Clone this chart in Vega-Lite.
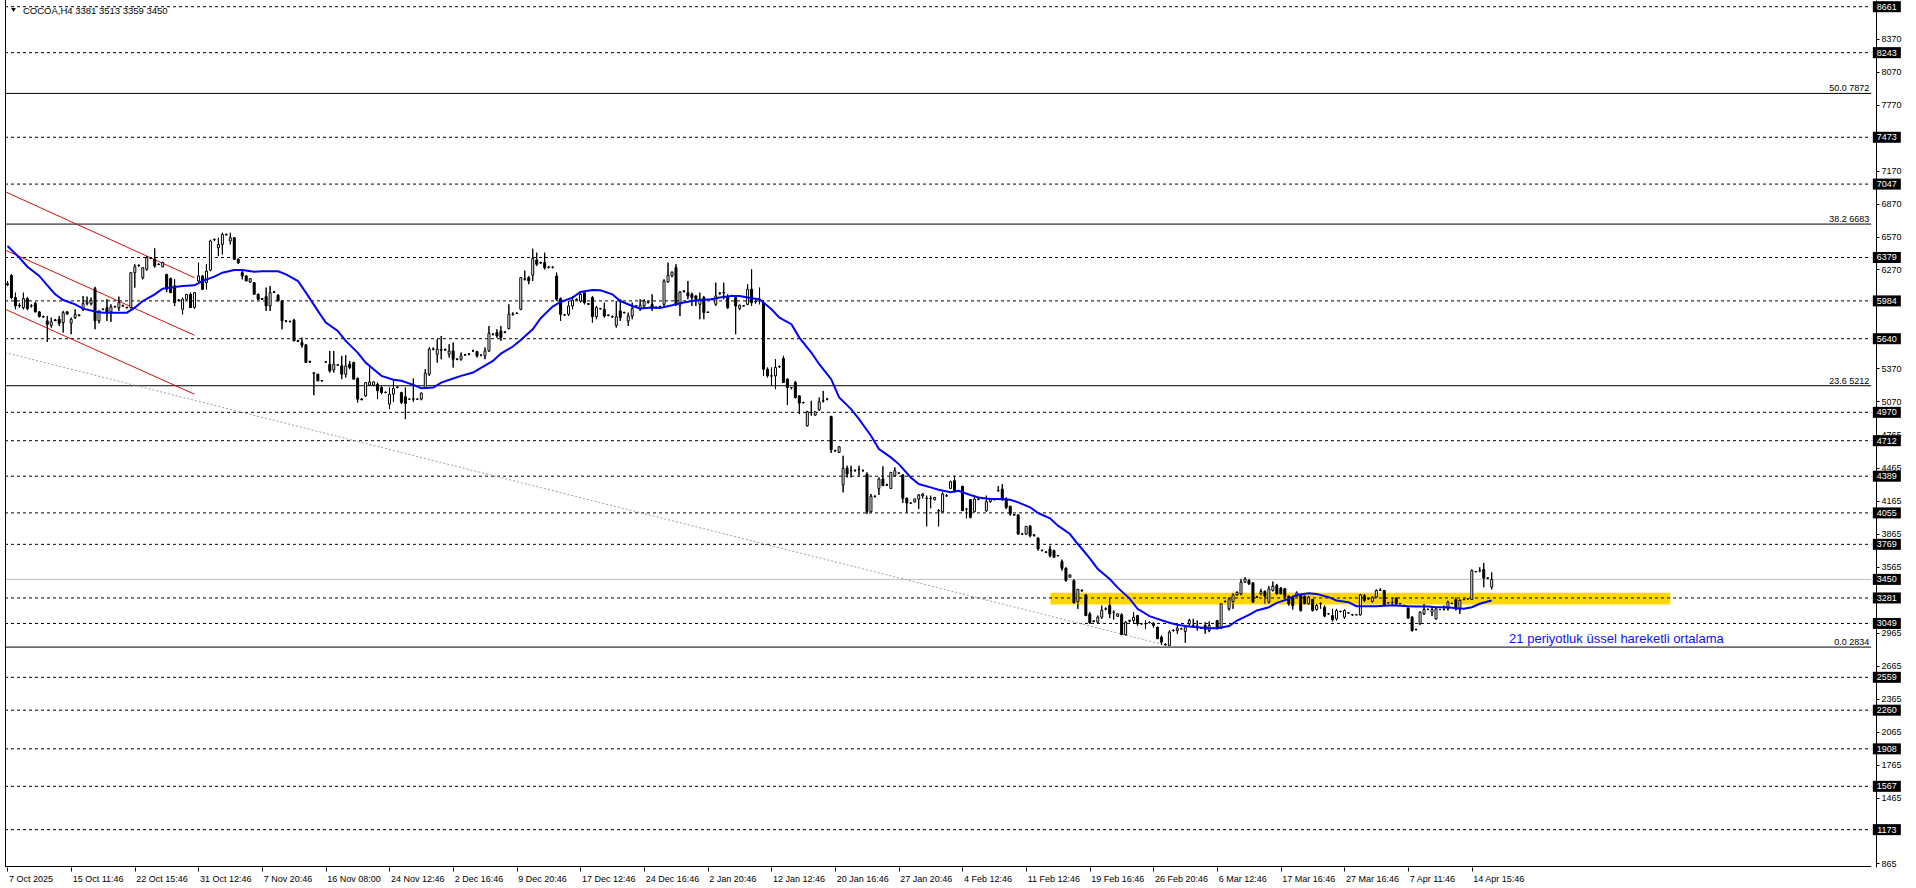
{
"$schema": "https://vega.github.io/schema/vega-lite/v6.json",
"width": 1916, "height": 867,
"autosize": "none",
"padding": {"left": 0, "top": 0, "right": 0, "bottom": 21},
"background": "white",
"config": {"view": {"stroke": null}, "font": "Liberation Sans", "axis": {"titleOpacity": 0}},
"datasets": {
"candles": [
{"i":0,"o":6140,"h":6165,"l":6120,"c":6130},{"i":1,"o":6217,"h":6226,"l":6000,"c":6014},{"i":2,"o":6014,"h":6059,"l":5908,"c":5938},{"i":3,"o":5944,"h":5962,"l":5923,"c":5938},{"i":4,"o":5923,"h":6059,"l":5908,"c":6005},{"i":5,"o":6005,"h":6020,"l":5900,"c":5914},{"i":6,"o":5938,"h":5953,"l":5925,"c":5940},{"i":7,"o":5962,"h":5975,"l":5880,"c":5884},{"i":8,"o":5884,"h":5890,"l":5835,"c":5841},{"i":9,"o":5841,"h":5850,"l":5830,"c":5838},
{"i":10,"o":5802,"h":5847,"l":5611,"c":5771},{"i":11,"o":5762,"h":5832,"l":5741,"c":5793},{"i":12,"o":5811,"h":5820,"l":5800,"c":5805},{"i":13,"o":5817,"h":5847,"l":5756,"c":5781},{"i":14,"o":5787,"h":5893,"l":5696,"c":5877},{"i":15,"o":5884,"h":5890,"l":5860,"c":5865},{"i":16,"o":5781,"h":5832,"l":5681,"c":5817},{"i":17,"o":5832,"h":5908,"l":5820,"c":5862},{"i":18,"o":5855,"h":5862,"l":5845,"c":5850},{"i":19,"o":5908,"h":6029,"l":5893,"c":5959},
{"i":20,"o":5962,"h":6023,"l":5944,"c":5974},{"i":21,"o":5959,"h":6014,"l":5944,"c":5989},{"i":22,"o":6096,"h":6113,"l":5726,"c":5802},{"i":23,"o":5802,"h":5893,"l":5780,"c":5893},{"i":24,"o":5905,"h":5915,"l":5900,"c":5908},{"i":25,"o":5923,"h":5999,"l":5802,"c":5877},{"i":26,"o":5884,"h":5953,"l":5793,"c":5929},{"i":27,"o":5932,"h":5940,"l":5925,"c":5930},{"i":28,"o":5923,"h":6023,"l":5893,"c":5968},{"i":29,"o":5938,"h":5950,"l":5930,"c":5940},
{"i":30,"o":5925,"h":5930,"l":5915,"c":5923},{"i":31,"o":5923,"h":6241,"l":5915,"c":6241},{"i":32,"o":6241,"h":6317,"l":6105,"c":6295},{"i":33,"o":6305,"h":6315,"l":6295,"c":6308},{"i":34,"o":6195,"h":6286,"l":6180,"c":6286},{"i":35,"o":6271,"h":6392,"l":6260,"c":6377},{"i":36,"o":6375,"h":6380,"l":6365,"c":6372},{"i":37,"o":6362,"h":6462,"l":6286,"c":6301},{"i":38,"o":6317,"h":6325,"l":6310,"c":6315},{"i":39,"o":6295,"h":6340,"l":6290,"c":6332},
{"i":40,"o":6226,"h":6226,"l":6065,"c":6089},{"i":41,"o":6189,"h":6195,"l":6059,"c":6059},{"i":42,"o":6120,"h":6180,"l":5938,"c":5968},{"i":43,"o":5989,"h":6000,"l":5980,"c":5992},{"i":44,"o":5908,"h":6014,"l":5862,"c":5999},{"i":45,"o":5999,"h":6044,"l":5990,"c":6044},{"i":46,"o":6044,"h":6060,"l":5923,"c":5923},{"i":47,"o":5923,"h":6059,"l":5915,"c":6059},{"i":48,"o":6165,"h":6332,"l":6150,"c":6211},{"i":49,"o":6211,"h":6220,"l":6089,"c":6089},
{"i":50,"o":6150,"h":6317,"l":6089,"c":6256},{"i":51,"o":6265,"h":6540,"l":6255,"c":6529},{"i":52,"o":6540,"h":6550,"l":6530,"c":6544},{"i":53,"o":6468,"h":6559,"l":6392,"c":6498},{"i":54,"o":6498,"h":6604,"l":6407,"c":6589},{"i":55,"o":6585,"h":6595,"l":6580,"c":6590},{"i":56,"o":6529,"h":6604,"l":6498,"c":6559},{"i":57,"o":6559,"h":6565,"l":6362,"c":6362},{"i":58,"o":6362,"h":6370,"l":6320,"c":6332},{"i":59,"o":6241,"h":6256,"l":6180,"c":6211},
{"i":60,"o":6211,"h":6215,"l":6165,"c":6165},{"i":61,"o":6156,"h":6190,"l":6150,"c":6186},{"i":62,"o":6150,"h":6155,"l":6044,"c":6044},{"i":63,"o":6044,"h":6050,"l":5995,"c":5999},{"i":64,"o":6005,"h":6010,"l":5995,"c":6000},{"i":65,"o":6023,"h":6105,"l":5893,"c":5938},{"i":66,"o":5938,"h":6120,"l":5893,"c":6059},{"i":67,"o":6065,"h":6075,"l":6055,"c":6062},{"i":68,"o":6035,"h":6045,"l":5983,"c":5983},{"i":69,"o":5983,"h":5990,"l":5726,"c":5802},
{"i":70,"o":5802,"h":5810,"l":5790,"c":5800},{"i":71,"o":5796,"h":5805,"l":5790,"c":5795},{"i":72,"o":5808,"h":5820,"l":5620,"c":5620},{"i":73,"o":5620,"h":5630,"l":5610,"c":5615},{"i":74,"o":5605,"h":5650,"l":5559,"c":5581},{"i":75,"o":5584,"h":5590,"l":5423,"c":5423},{"i":76,"o":5429,"h":5440,"l":5420,"c":5432},{"i":77,"o":5323,"h":5332,"l":5126,"c":5330},{"i":78,"o":5317,"h":5320,"l":5256,"c":5256},{"i":79,"o":5256,"h":5265,"l":5250,"c":5260},
{"i":80,"o":5429,"h":5435,"l":5420,"c":5428},{"i":81,"o":5408,"h":5529,"l":5332,"c":5347},{"i":82,"o":5356,"h":5529,"l":5332,"c":5408},{"i":83,"o":5402,"h":5410,"l":5395,"c":5400},{"i":84,"o":5393,"h":5484,"l":5272,"c":5317},{"i":85,"o":5317,"h":5490,"l":5287,"c":5393},{"i":86,"o":5408,"h":5438,"l":5363,"c":5378},{"i":87,"o":5423,"h":5430,"l":5272,"c":5272},{"i":88,"o":5278,"h":5287,"l":5060,"c":5090},{"i":89,"o":5090,"h":5100,"l":5080,"c":5085},
{"i":90,"o":5120,"h":5241,"l":5110,"c":5241},{"i":91,"o":5217,"h":5378,"l":5211,"c":5247},{"i":92,"o":5217,"h":5250,"l":5210,"c":5247},{"i":93,"o":5226,"h":5240,"l":5090,"c":5166},{"i":94,"o":5196,"h":5211,"l":5135,"c":5150},{"i":95,"o":5150,"h":5160,"l":5145,"c":5152},{"i":96,"o":5045,"h":5196,"l":4999,"c":5135},{"i":97,"o":5135,"h":5257,"l":5066,"c":5187},{"i":98,"o":5196,"h":5205,"l":5190,"c":5200},{"i":99,"o":5150,"h":5157,"l":5045,"c":5060},
{"i":100,"o":5111,"h":5196,"l":4908,"c":5051},{"i":101,"o":5090,"h":5095,"l":5085,"c":5090},{"i":102,"o":5090,"h":5278,"l":5066,"c":5092},{"i":103,"o":5090,"h":5095,"l":5085,"c":5090},{"i":104,"o":5090,"h":5150,"l":5080,"c":5145},{"i":105,"o":5196,"h":5363,"l":5190,"c":5326},{"i":106,"o":5317,"h":5560,"l":5302,"c":5544},{"i":107,"o":5544,"h":5560,"l":5535,"c":5546},{"i":108,"o":5499,"h":5635,"l":5423,"c":5544},{"i":109,"o":5535,"h":5665,"l":5453,"c":5540},
{"i":110,"o":5540,"h":5550,"l":5530,"c":5538},{"i":111,"o":5499,"h":5590,"l":5469,"c":5529},{"i":112,"o":5529,"h":5605,"l":5378,"c":5453},{"i":113,"o":5455,"h":5460,"l":5445,"c":5453},{"i":114,"o":5453,"h":5514,"l":5440,"c":5484},{"i":115,"o":5493,"h":5500,"l":5485,"c":5494},{"i":116,"o":5499,"h":5510,"l":5490,"c":5500},{"i":117,"o":5529,"h":5540,"l":5520,"c":5530},{"i":118,"o":5523,"h":5529,"l":5469,"c":5484},{"i":119,"o":5490,"h":5495,"l":5480,"c":5490},
{"i":120,"o":5484,"h":5560,"l":5453,"c":5529},{"i":121,"o":5529,"h":5756,"l":5520,"c":5690},{"i":122,"o":5680,"h":5690,"l":5670,"c":5681},{"i":123,"o":5696,"h":5726,"l":5650,"c":5665},{"i":124,"o":5711,"h":5756,"l":5620,"c":5650},{"i":125,"o":5700,"h":5710,"l":5690,"c":5702},{"i":126,"o":5732,"h":5953,"l":5726,"c":5862},{"i":127,"o":5862,"h":5880,"l":5850,"c":5865},{"i":128,"o":5872,"h":5880,"l":5865,"c":5870},{"i":129,"o":5908,"h":6200,"l":5900,"c":6196},
{"i":130,"o":6180,"h":6260,"l":6170,"c":6186},{"i":131,"o":6196,"h":6211,"l":6135,"c":6165},{"i":132,"o":6217,"h":6459,"l":6165,"c":6368},{"i":133,"o":6356,"h":6423,"l":6301,"c":6317},{"i":134,"o":6330,"h":6340,"l":6320,"c":6333},{"i":135,"o":6332,"h":6423,"l":6271,"c":6286},{"i":136,"o":6290,"h":6300,"l":6280,"c":6292},{"i":137,"o":6290,"h":6300,"l":6280,"c":6290},{"i":138,"o":6211,"h":6241,"l":5983,"c":5999},{"i":139,"o":6005,"h":6014,"l":5802,"c":5862},
{"i":140,"o":5856,"h":5865,"l":5850,"c":5855},{"i":141,"o":5862,"h":5983,"l":5847,"c":5938},{"i":142,"o":5938,"h":6029,"l":5908,"c":5990},{"i":143,"o":5995,"h":6005,"l":5990,"c":5999},{"i":144,"o":5983,"h":6050,"l":5970,"c":6044},{"i":145,"o":6059,"h":6074,"l":5953,"c":5968},{"i":146,"o":5960,"h":5965,"l":5950,"c":5953},{"i":147,"o":6014,"h":6029,"l":5787,"c":5840},{"i":148,"o":5840,"h":5938,"l":5817,"c":5923},{"i":149,"o":5915,"h":5920,"l":5905,"c":5913},
{"i":150,"o":5908,"h":5968,"l":5832,"c":5847},{"i":151,"o":5855,"h":5860,"l":5845,"c":5853},{"i":152,"o":5840,"h":5850,"l":5830,"c":5842},{"i":153,"o":5762,"h":5983,"l":5741,"c":5840},{"i":154,"o":5893,"h":5999,"l":5802,"c":5832},{"i":155,"o":5878,"h":5885,"l":5870,"c":5877},{"i":156,"o":5802,"h":5877,"l":5756,"c":5847},{"i":157,"o":5847,"h":5968,"l":5817,"c":5914},{"i":158,"o":5937,"h":5945,"l":5930,"c":5940},{"i":159,"o":5908,"h":5999,"l":5893,"c":5944},
{"i":160,"o":5938,"h":5999,"l":5923,"c":5983},{"i":161,"o":5970,"h":5980,"l":5960,"c":5975},{"i":162,"o":5953,"h":6044,"l":5893,"c":5914},{"i":163,"o":5925,"h":5935,"l":5910,"c":5924},{"i":164,"o":5930,"h":5940,"l":5920,"c":5932},{"i":165,"o":5953,"h":6180,"l":5938,"c":6165},{"i":166,"o":6156,"h":6332,"l":6150,"c":6217},{"i":167,"o":6211,"h":6250,"l":6200,"c":6246},{"i":168,"o":6287,"h":6317,"l":5938,"c":5953},{"i":169,"o":5944,"h":6074,"l":5847,"c":6065},
{"i":170,"o":6070,"h":6080,"l":6060,"c":6075},{"i":171,"o":6059,"h":6165,"l":6000,"c":6029},{"i":172,"o":6044,"h":6059,"l":5938,"c":6014},{"i":173,"o":6029,"h":6035,"l":5938,"c":5999},{"i":174,"o":5953,"h":6059,"l":5817,"c":5999},{"i":175,"o":6014,"h":6029,"l":5817,"c":5878},{"i":176,"o":5880,"h":5885,"l":5875,"c":5882},{"i":177,"o":5999,"h":6010,"l":5990,"c":6000},{"i":178,"o":5953,"h":6150,"l":5938,"c":6029},{"i":179,"o":6050,"h":6065,"l":6040,"c":6055},
{"i":180,"o":6058,"h":6150,"l":5999,"c":6062},{"i":181,"o":6014,"h":6044,"l":5911,"c":5923},{"i":182,"o":6030,"h":6040,"l":6020,"c":6028},{"i":183,"o":6014,"h":6029,"l":5681,"c":5938},{"i":184,"o":5917,"h":5950,"l":5900,"c":5944},{"i":185,"o":5940,"h":5945,"l":5935,"c":5938},{"i":186,"o":5953,"h":6135,"l":5945,"c":6090},{"i":187,"o":6090,"h":6271,"l":5940,"c":5968},{"i":188,"o":5980,"h":5990,"l":5960,"c":5975},{"i":189,"o":5985,"h":6105,"l":5953,"c":5983},
{"i":190,"o":5968,"h":5990,"l":5302,"c":5363},{"i":191,"o":5363,"h":5378,"l":5287,"c":5302},{"i":192,"o":5302,"h":5378,"l":5211,"c":5300},{"i":193,"o":5302,"h":5454,"l":5181,"c":5378},{"i":194,"o":5385,"h":5395,"l":5375,"c":5387},{"i":195,"o":5460,"h":5484,"l":5241,"c":5241},{"i":196,"o":5272,"h":5278,"l":5036,"c":5196},{"i":197,"o":5196,"h":5200,"l":5180,"c":5195},{"i":198,"o":5241,"h":5256,"l":5096,"c":5105},{"i":199,"o":5120,"h":5126,"l":4954,"c":5054},
{"i":200,"o":5060,"h":5065,"l":5050,"c":5060},{"i":201,"o":4848,"h":4984,"l":4842,"c":4975},{"i":202,"o":4970,"h":5075,"l":4940,"c":4968},{"i":203,"o":4945,"h":4980,"l":4940,"c":4975},{"i":204,"o":4993,"h":5105,"l":4984,"c":5066},{"i":205,"o":5075,"h":5165,"l":5060,"c":5076},{"i":206,"o":5090,"h":5100,"l":5080,"c":5090},{"i":207,"o":4932,"h":4938,"l":4600,"c":4630},{"i":208,"o":4620,"h":4630,"l":4610,"c":4622},{"i":209,"o":4606,"h":4660,"l":4600,"c":4657},
{"i":210,"o":4309,"h":4575,"l":4242,"c":4460},{"i":211,"o":4460,"h":4484,"l":4378,"c":4409},{"i":212,"o":4440,"h":4484,"l":4378,"c":4440},{"i":213,"o":4440,"h":4450,"l":4430,"c":4442},{"i":214,"o":4448,"h":4484,"l":4393,"c":4450},{"i":215,"o":4440,"h":4450,"l":4430,"c":4440},{"i":216,"o":4408,"h":4424,"l":4045,"c":4066},{"i":217,"o":4066,"h":4227,"l":4060,"c":4206},{"i":218,"o":4206,"h":4215,"l":4195,"c":4205},{"i":219,"o":4278,"h":4378,"l":4218,"c":4363},
{"i":220,"o":4363,"h":4478,"l":4302,"c":4302},{"i":221,"o":4310,"h":4320,"l":4300,"c":4308},{"i":222,"o":4278,"h":4424,"l":4272,"c":4424},{"i":223,"o":4393,"h":4469,"l":4387,"c":4439},{"i":224,"o":4418,"h":4425,"l":4410,"c":4417},{"i":225,"o":4400,"h":4409,"l":4145,"c":4187},{"i":226,"o":4187,"h":4196,"l":4060,"c":4145},{"i":227,"o":4145,"h":4150,"l":4140,"c":4144},{"i":228,"o":4157,"h":4185,"l":4150,"c":4181},{"i":229,"o":4181,"h":4227,"l":4090,"c":4218},
{"i":230,"o":4212,"h":4235,"l":4187,"c":4227},{"i":231,"o":4187,"h":4212,"l":3933,"c":4188},{"i":232,"o":4190,"h":4212,"l":4097,"c":4188},{"i":233,"o":4175,"h":4200,"l":4170,"c":4196},{"i":234,"o":4075,"h":4090,"l":3933,"c":4072},{"i":235,"o":4066,"h":4242,"l":4060,"c":4227},{"i":236,"o":4210,"h":4225,"l":4200,"c":4212},{"i":237,"o":4278,"h":4348,"l":4272,"c":4339},{"i":238,"o":4348,"h":4393,"l":4242,"c":4257},{"i":239,"o":4257,"h":4265,"l":4250,"c":4258},
{"i":240,"o":4296,"h":4302,"l":4075,"c":4075},{"i":241,"o":4090,"h":4095,"l":4006,"c":4090},{"i":242,"o":4175,"h":4181,"l":4006,"c":4015},{"i":243,"o":4066,"h":4212,"l":4060,"c":4181},{"i":244,"o":4180,"h":4190,"l":4170,"c":4181},{"i":245,"o":4185,"h":4195,"l":4180,"c":4187},{"i":246,"o":4075,"h":4212,"l":4066,"c":4157},{"i":247,"o":4157,"h":4185,"l":4150,"c":4181},{"i":248,"o":4175,"h":4180,"l":4170,"c":4176},{"i":249,"o":4257,"h":4300,"l":4250,"c":4258},
{"i":250,"o":4272,"h":4317,"l":4166,"c":4181},{"i":251,"o":4181,"h":4196,"l":4090,"c":4105},{"i":252,"o":4115,"h":4120,"l":4030,"c":4045},{"i":253,"o":4040,"h":4045,"l":4030,"c":4036},{"i":254,"o":4036,"h":4045,"l":3854,"c":3863},{"i":255,"o":3863,"h":3870,"l":3855,"c":3862},{"i":256,"o":3863,"h":3933,"l":3855,"c":3933},{"i":257,"o":3933,"h":3945,"l":3833,"c":3848},{"i":258,"o":3855,"h":3860,"l":3840,"c":3850},{"i":259,"o":3824,"h":3833,"l":3712,"c":3727},
{"i":260,"o":3715,"h":3720,"l":3705,"c":3712},{"i":261,"o":3700,"h":3705,"l":3690,"c":3697},{"i":262,"o":3727,"h":3757,"l":3651,"c":3666},{"i":263,"o":3712,"h":3720,"l":3651,"c":3651},{"i":264,"o":3667,"h":3672,"l":3660,"c":3666},{"i":265,"o":3612,"h":3630,"l":3530,"c":3551},{"i":266,"o":3551,"h":3560,"l":3430,"c":3439},{"i":267,"o":3470,"h":3495,"l":3465,"c":3490},{"i":268,"o":3439,"h":3454,"l":3228,"c":3237},{"i":269,"o":3248,"h":3360,"l":3182,"c":3360},
{"i":270,"o":3345,"h":3360,"l":3340,"c":3348},{"i":271,"o":3309,"h":3318,"l":3116,"c":3121},{"i":272,"o":3136,"h":3151,"l":3046,"c":3055},{"i":273,"o":3070,"h":3080,"l":3060,"c":3068},{"i":274,"o":3061,"h":3121,"l":3055,"c":3106},{"i":275,"o":3106,"h":3212,"l":3091,"c":3167},{"i":276,"o":3180,"h":3195,"l":3170,"c":3182},{"i":277,"o":3212,"h":3279,"l":3098,"c":3136},{"i":278,"o":3150,"h":3167,"l":3085,"c":3152},{"i":279,"o":3115,"h":3140,"l":3110,"c":3136},
{"i":280,"o":3128,"h":3140,"l":2946,"c":2946},{"i":281,"o":2946,"h":3070,"l":2940,"c":3061},{"i":282,"o":3070,"h":3080,"l":3060,"c":3078},{"i":283,"o":3076,"h":3152,"l":3046,"c":3106},{"i":284,"o":3121,"h":3127,"l":3030,"c":3046},{"i":285,"o":3046,"h":3050,"l":3040,"c":3045},{"i":286,"o":3048,"h":3076,"l":3000,"c":3046},{"i":287,"o":3058,"h":3065,"l":3050,"c":3060},{"i":288,"o":3050,"h":3060,"l":3010,"c":3030},{"i":289,"o":3015,"h":3020,"l":2910,"c":2910},
{"i":290,"o":2925,"h":2940,"l":2855,"c":2879},{"i":291,"o":2860,"h":2865,"l":2850,"c":2855},{"i":292,"o":2849,"h":2985,"l":2843,"c":2970},{"i":293,"o":2985,"h":2995,"l":2975,"c":2985},{"i":294,"o":2985,"h":3030,"l":2955,"c":3006},{"i":295,"o":3000,"h":3010,"l":2995,"c":3000},{"i":296,"o":2976,"h":3030,"l":2873,"c":3015},{"i":297,"o":3046,"h":3091,"l":3030,"c":3076},{"i":298,"o":3030,"h":3091,"l":3015,"c":3031},{"i":299,"o":3025,"h":3076,"l":2985,"c":3024},
{"i":300,"o":3006,"h":3015,"l":3000,"c":3005},{"i":301,"o":3030,"h":3061,"l":2955,"c":2994},{"i":302,"o":2985,"h":3067,"l":2970,"c":3030},{"i":303,"o":3006,"h":3015,"l":3000,"c":3005},{"i":304,"o":3076,"h":3078,"l":2995,"c":3006},{"i":305,"o":3006,"h":3228,"l":3000,"c":3228},{"i":306,"o":3248,"h":3260,"l":3240,"c":3249},{"i":307,"o":3182,"h":3288,"l":3167,"c":3273},{"i":308,"o":3249,"h":3327,"l":3182,"c":3309},{"i":309,"o":3309,"h":3340,"l":3300,"c":3333},
{"i":310,"o":3318,"h":3455,"l":3303,"c":3424},{"i":311,"o":3424,"h":3470,"l":3418,"c":3454},{"i":312,"o":3440,"h":3455,"l":3400,"c":3410},{"i":313,"o":3418,"h":3424,"l":3236,"c":3243},{"i":314,"o":3290,"h":3300,"l":3280,"c":3288},{"i":315,"o":3318,"h":3364,"l":3303,"c":3340},{"i":316,"o":3340,"h":3350,"l":3228,"c":3297},{"i":317,"o":3243,"h":3388,"l":3228,"c":3364},{"i":318,"o":3349,"h":3430,"l":3340,"c":3388},{"i":319,"o":3394,"h":3409,"l":3310,"c":3318},
{"i":320,"o":3370,"h":3380,"l":3318,"c":3318},{"i":321,"o":3364,"h":3370,"l":3267,"c":3297},{"i":322,"o":3297,"h":3303,"l":3212,"c":3228},{"i":323,"o":3288,"h":3303,"l":3176,"c":3212},{"i":324,"o":3297,"h":3340,"l":3290,"c":3327},{"i":325,"o":3309,"h":3318,"l":3158,"c":3167},{"i":326,"o":3297,"h":3303,"l":3228,"c":3228},{"i":327,"o":3228,"h":3300,"l":3220,"c":3288},{"i":328,"o":3267,"h":3273,"l":3158,"c":3167},{"i":329,"o":3176,"h":3228,"l":3167,"c":3212},
{"i":330,"o":3230,"h":3243,"l":3182,"c":3228},{"i":331,"o":3197,"h":3212,"l":3106,"c":3116},{"i":332,"o":3136,"h":3140,"l":3130,"c":3137},{"i":333,"o":3121,"h":3182,"l":3067,"c":3082},{"i":334,"o":3091,"h":3182,"l":3076,"c":3167},{"i":335,"o":3158,"h":3165,"l":3150,"c":3158},{"i":336,"o":3106,"h":3176,"l":3091,"c":3167},{"i":337,"o":3145,"h":3150,"l":3140,"c":3146},{"i":338,"o":3127,"h":3135,"l":3120,"c":3128},{"i":339,"o":3127,"h":3130,"l":3125,"c":3128},
{"i":340,"o":3127,"h":3318,"l":3122,"c":3309},{"i":341,"o":3303,"h":3318,"l":3243,"c":3258},{"i":342,"o":3273,"h":3280,"l":3265,"c":3273},{"i":343,"o":3249,"h":3297,"l":3237,"c":3288},{"i":344,"o":3288,"h":3358,"l":3279,"c":3349},{"i":345,"o":3350,"h":3370,"l":3345,"c":3352},{"i":346,"o":3349,"h":3350,"l":3212,"c":3218},{"i":347,"o":3237,"h":3245,"l":3230,"c":3237},{"i":348,"o":3240,"h":3279,"l":3218,"c":3237},{"i":349,"o":3279,"h":3288,"l":3218,"c":3228},
{"i":350,"o":3230,"h":3235,"l":3225,"c":3228},{"i":351,"o":3212,"h":3220,"l":3205,"c":3212},{"i":352,"o":3188,"h":3197,"l":3097,"c":3097},{"i":353,"o":3106,"h":3115,"l":2976,"c":2985},{"i":354,"o":2995,"h":3000,"l":2985,"c":2994},{"i":355,"o":3046,"h":3158,"l":3037,"c":3152},{"i":356,"o":3136,"h":3228,"l":3127,"c":3176},{"i":357,"o":3176,"h":3185,"l":3170,"c":3176},{"i":358,"o":3152,"h":3197,"l":3116,"c":3176},{"i":359,"o":3091,"h":3197,"l":3085,"c":3182},
{"i":360,"o":3176,"h":3182,"l":3170,"c":3176},{"i":361,"o":3176,"h":3212,"l":3167,"c":3178},{"i":362,"o":3182,"h":3258,"l":3167,"c":3243},{"i":363,"o":3230,"h":3240,"l":3225,"c":3230},{"i":364,"o":3267,"h":3288,"l":3167,"c":3182},{"i":365,"o":3182,"h":3273,"l":3136,"c":3258},{"i":366,"o":3266,"h":3275,"l":3260,"c":3267},{"i":367,"o":3273,"h":3280,"l":3265,"c":3273},{"i":368,"o":3267,"h":3540,"l":3265,"c":3530},{"i":369,"o":3520,"h":3525,"l":3515,"c":3521},
{"i":370,"o":3530,"h":3560,"l":3515,"c":3530},{"i":371,"o":3540,"h":3600,"l":3379,"c":3460},{"i":372,"o":3462,"h":3470,"l":3450,"c":3461},{"i":373,"o":3381,"h":3513,"l":3359,"c":3450}
],
"ema": [
{"i":0,"v":6483},{"i":3,"v":6377},{"i":5,"v":6295},{"i":8,"v":6211},{"i":10,"v":6126},{"i":12,"v":6044},{"i":14,"v":5992},{"i":17,"v":5953},{"i":19,"v":5914},{"i":22,"v":5887},{"i":24,"v":5877},{"i":27,"v":5877},{"i":30,"v":5877},{"i":32,"v":5923},{"i":34,"v":5983},{"i":37,"v":6044},{"i":39,"v":6096},{"i":42,"v":6111},{"i":44,"v":6120},{"i":47,"v":6126},{"i":49,"v":6165},{"i":52,"v":6205},{"i":54,"v":6241},{"i":57,"v":6265},{"i":59,"v":6265},{"i":62,"v":6250},{"i":64,"v":6253},{"i":68,"v":6253},{"i":70,"v":6226},{"i":73,"v":6165},{"i":75,"v":6059},{"i":78,"v":5893},{"i":80,"v":5787},{"i":83,"v":5711},{"i":85,"v":5620},{"i":88,"v":5514},{"i":90,"v":5423},{"i":92,"v":5363},{"i":94,"v":5302},{"i":97,"v":5266},{"i":99,"v":5257},{"i":102,"v":5220},{"i":104,"v":5190},{"i":107,"v":5196},{"i":109,"v":5241},{"i":112,"v":5278},{"i":114,"v":5302},{"i":117,"v":5332},{"i":119,"v":5375},{"i":122,"v":5438},{"i":124,"v":5505},{"i":127,"v":5569},{"i":129,"v":5629},{"i":132,"v":5726},{"i":134,"v":5826},{"i":137,"v":5932},{"i":139,"v":5974},{"i":142,"v":6014},{"i":144,"v":6065},{"i":147,"v":6083},{"i":149,"v":6080},{"i":152,"v":6044},{"i":154,"v":5983},{"i":157,"v":5938},{"i":159,"v":5914},{"i":162,"v":5923},{"i":164,"v":5920},{"i":167,"v":5944},{"i":169,"v":5962},{"i":172,"v":5983},{"i":174,"v":5992},{"i":177,"v":5999},{"i":179,"v":6014},{"i":182,"v":6029},{"i":184,"v":6029},{"i":187,"v":6008},{"i":189,"v":5999},{"i":192,"v":5908},{"i":194,"v":5832},{"i":197,"v":5772},{"i":199,"v":5650},{"i":202,"v":5514},{"i":204,"v":5408},{"i":207,"v":5272},{"i":209,"v":5105},{"i":212,"v":4999},{"i":214,"v":4908},{"i":217,"v":4757},{"i":219,"v":4636},{"i":222,"v":4560},{"i":224,"v":4499},{"i":227,"v":4378},{"i":229,"v":4318},{"i":232,"v":4287},{"i":234,"v":4266},{"i":237,"v":4242},{"i":239,"v":4257},{"i":242,"v":4218},{"i":244,"v":4196},{"i":247,"v":4181},{"i":249,"v":4181},{"i":252,"v":4175},{"i":254,"v":4151},{"i":257,"v":4106},{"i":259,"v":4054},{"i":262,"v":4006},{"i":264,"v":3939},{"i":267,"v":3863},{"i":269,"v":3772},{"i":272,"v":3642},{"i":274,"v":3545},{"i":277,"v":3454},{"i":279,"v":3375},{"i":282,"v":3275},{"i":284,"v":3182},{"i":287,"v":3116},{"i":289,"v":3091},{"i":292,"v":3055},{"i":294,"v":3037},{"i":297,"v":3022},{"i":299,"v":3015},{"i":302,"v":3006},{"i":304,"v":3006},{"i":307,"v":3025},{"i":309,"v":3076},{"i":312,"v":3128},{"i":314,"v":3167},{"i":317,"v":3197},{"i":319,"v":3237},{"i":322,"v":3273},{"i":324,"v":3309},{"i":327,"v":3324},{"i":329,"v":3318},{"i":332,"v":3288},{"i":334,"v":3258},{"i":337,"v":3243},{"i":339,"v":3206},{"i":342,"v":3206},{"i":344,"v":3206},{"i":347,"v":3212},{"i":349,"v":3212},{"i":352,"v":3206},{"i":354,"v":3203},{"i":357,"v":3203},{"i":359,"v":3197},{"i":362,"v":3197},{"i":364,"v":3188},{"i":366,"v":3182},{"i":368,"v":3197},{"i":370,"v":3228},{"i":372,"v":3249},{"i":373,"v":3258}
],
"levels": [
{"p":8661,"k":"d"},{"p":8243,"k":"d"},{"p":7473,"k":"d"},{"p":7047,"k":"d"},{"p":6379,"k":"d"},{"p":5984,"k":"d"},{"p":5640,"k":"d"},{"p":4970,"k":"d"},{"p":4712,"k":"d"},{"p":4389,"k":"d"},{"p":4055,"k":"d"},{"p":3769,"k":"d"},{"p":3450,"k":"b"},{"p":3281,"k":"d"},{"p":3049,"k":"d"},{"p":2559,"k":"d"},{"p":2260,"k":"d"},{"p":1908,"k":"d"},{"p":1567,"k":"d"},{"p":1173,"k":"d"}
],
"fib": [
{"p":7872,"t":"50.0 7872"},{"p":6683,"t":"38.2 6683"},{"p":5212,"t":"23.6 5212"},{"p":2834,"t":"0.0 2834"}
],
"channel": [
{"a":-0.625,"pa":6978,"b":47,"pb":6195},{"a":-0.625,"pa":6448,"b":47,"pb":5671},{"a":-0.625,"pa":5909,"b":47,"pb":5135}
]
},
"layer": [
{"data": {"name": "candles"},
 "mark": {"type": "rule", "color": "black", "strokeWidth": 1},
 "encoding": {
  "x": {"field": "i", "type": "quantitative", "scale": {"domain": [-0.625, 478.375], "nice": false, "zero": false},
   "axis": {"orient": "bottom", "title": null, "domain": false, "grid": false, "values": [0,16,32,48,64,80,96,112,128,144,160,176,192,208,224,240,256,272,288,304,320,336,352,368],
    "labelExpr": "['7 Oct 2025','15 Oct 11:46','22 Oct 15:46','31 Oct 12:46','7 Nov 20:46','16 Nov 08:00','24 Nov 12:46','2 Dec 16:46','9 Dec 20:46','17 Dec 12:46','24 Dec 16:46','2 Jan 20:46','12 Jan 12:46','20 Jan 16:46','27 Jan 20:46','4 Feb 12:46','11 Feb 12:46','19 Feb 16:46','26 Feb 20:46','6 Mar 12:46','17 Mar 16:46','27 Mar 16:46','7 Apr 11:46','14 Apr 15:46'][round(datum.value/16)]",
    "labelAlign": "left", "labelOffset": 1, "labelPadding": 3, "tickSize": 4, "tickColor": "black", "labelColor": "black", "labelFont": "Liberation Sans", "labelFontSize": 9, "labelOverlap": false, "labelFlush": false}},
  "y": {"field": "l", "type": "quantitative", "scale": {"domain": [833, 8722], "nice": false, "zero": false},
   "axis": {"orient": "right", "offset": -40, "title": null, "grid": false, "domain": true, "domainColor": "black", "domainWidth": 1,
    "values": [8370,8070,7770,7170,6870,6570,6270,5370,5070,4765,4465,4165,3865,3565,2965,2665,2365,2065,1765,1465,865],
    "format": "d", "tickSize": 3, "tickColor": "black", "labelPadding": 2, "labelColor": "black", "labelFont": "Liberation Sans", "labelFontSize": 9, "labelBaseline": "middle", "labelAlign": "left", "labelOverlap": false, "labelFlush": false}},
  "y2": {"field": "h"}}},
{"data": {"values": [{}]}, "mark": {"type": "rect", "color": "#FFD700"},
 "encoding": {
  "x": {"datum": 262.1, "type": "quantitative", "scale": {"domain": [-0.625, 478.375], "nice": false, "zero": false}},
  "x2": {"datum": 417.9},
  "y": {"datum": 3222, "type": "quantitative", "scale": {"domain": [833, 8722], "nice": false, "zero": false}},
  "y2": {"datum": 3328}}},
{"data": {"name": "levels"}, "transform": [{"filter": "datum.k == 'd'"}],
 "mark": {"type": "rule", "color": "black", "strokeWidth": 1, "strokeDash": [3, 3]},
 "encoding": {
  "x": {"datum": -0.625, "type": "quantitative", "scale": {"domain": [-0.625, 478.375], "nice": false, "zero": false}},
  "x2": {"datum": 468.375},
  "y": {"field": "p", "type": "quantitative", "scale": {"domain": [833, 8722], "nice": false, "zero": false}}}},
{"data": {"name": "levels"}, "transform": [{"filter": "datum.k == 'b'"}],
 "mark": {"type": "rule", "color": "#c0c0c0", "strokeWidth": 1},
 "encoding": {
  "x": {"datum": -0.625, "type": "quantitative", "scale": {"domain": [-0.625, 478.375], "nice": false, "zero": false}},
  "x2": {"datum": 468.375},
  "y": {"field": "p", "type": "quantitative", "scale": {"domain": [833, 8722], "nice": false, "zero": false}}}},
{"data": {"name": "fib"},
 "mark": {"type": "rule", "color": "black", "strokeWidth": 1},
 "encoding": {
  "x": {"datum": -0.625, "type": "quantitative", "scale": {"domain": [-0.625, 478.375], "nice": false, "zero": false}},
  "x2": {"datum": 468.375},
  "y": {"field": "p", "type": "quantitative", "scale": {"domain": [833, 8722], "nice": false, "zero": false}}}},
{"data": {"name": "fib"},
 "mark": {"type": "text", "align": "right", "baseline": "alphabetic", "dy": -2, "font": "Liberation Sans", "fontSize": 9, "color": "black"},
 "encoding": {
  "x": {"datum": 467.875, "type": "quantitative", "scale": {"domain": [-0.625, 478.375], "nice": false, "zero": false}},
  "y": {"field": "p", "type": "quantitative", "scale": {"domain": [833, 8722], "nice": false, "zero": false}},
  "text": {"field": "t"}}},
{"data": {"values": [{}]},
 "mark": {"type": "rule", "color": "#a0a0a0", "strokeWidth": 1, "strokeDash": [2, 2]},
 "encoding": {
  "x": {"datum": -0.625, "type": "quantitative", "scale": {"domain": [-0.625, 478.375], "nice": false, "zero": false}},
  "x2": {"datum": 292},
  "y": {"datum": 5514, "type": "quantitative", "scale": {"domain": [833, 8722], "nice": false, "zero": false}},
  "y2": {"datum": 2843}}},
{"data": {"name": "channel"},
 "mark": {"type": "rule", "color": "#cc1010", "strokeWidth": 1},
 "encoding": {
  "x": {"field": "a", "type": "quantitative", "scale": {"domain": [-0.625, 478.375], "nice": false, "zero": false}},
  "x2": {"field": "b"},
  "y": {"field": "pa", "type": "quantitative", "scale": {"domain": [833, 8722], "nice": false, "zero": false}},
  "y2": {"field": "pb"}}},
{"data": {"values": [{}]},
 "mark": {"type": "rule", "color": "black", "strokeWidth": 1},
 "encoding": {
  "x": {"datum": -0.5, "type": "quantitative", "scale": {"domain": [-0.625, 478.375], "nice": false, "zero": false}},
  "y": {"datum": 833, "type": "quantitative", "scale": {"domain": [833, 8722], "nice": false, "zero": false}},
  "y2": {"datum": 8722}}},
{"data": {"values": [{}]},
 "mark": {"type": "rule", "color": "black", "strokeWidth": 1},
 "encoding": {
  "x": {"datum": -0.625, "type": "quantitative", "scale": {"domain": [-0.625, 478.375], "nice": false, "zero": false}},
  "x2": {"datum": 468.375},
  "y": {"datum": 837.5, "type": "quantitative", "scale": {"domain": [833, 8722], "nice": false, "zero": false}}}},
{"data": {"name": "candles"},
 "mark": {"type": "rule", "color": "black", "strokeWidth": 1},
 "encoding": {
  "x": {"field": "i", "type": "quantitative", "scale": {"domain": [-0.625, 478.375], "nice": false, "zero": false}},
  "y": {"field": "l", "type": "quantitative", "scale": {"domain": [833, 8722], "nice": false, "zero": false}},
  "y2": {"field": "h"}}},
{"data": {"name": "candles"},
 "mark": {"type": "bar", "width": 2, "stroke": "black", "strokeWidth": 1},
 "encoding": {
  "x": {"field": "i", "type": "quantitative", "scale": {"domain": [-0.625, 478.375], "nice": false, "zero": false}},
  "y": {"field": "o", "type": "quantitative", "scale": {"domain": [833, 8722], "nice": false, "zero": false}},
  "y2": {"field": "c"},
  "fill": {"condition": {"test": "datum.c >= datum.o", "value": "white"}, "value": "black"}}},
{"data": {"name": "ema"},
 "mark": {"type": "line", "color": "#0000ff", "strokeWidth": 2},
 "encoding": {
  "x": {"field": "i", "type": "quantitative", "scale": {"domain": [-0.625, 478.375], "nice": false, "zero": false}},
  "y": {"field": "v", "type": "quantitative", "scale": {"domain": [833, 8722], "nice": false, "zero": false}}}},
{"data": {"values": [{"t": "21 periyotluk üssel hareketli ortalama"}]},
 "mark": {"type": "text", "align": "left", "baseline": "middle", "font": "Liberation Sans", "fontSize": 13, "color": "#1010ff"},
 "encoding": {
  "x": {"datum": 377.375, "type": "quantitative", "scale": {"domain": [-0.625, 478.375], "nice": false, "zero": false}},
  "y": {"datum": 2908, "type": "quantitative", "scale": {"domain": [833, 8722], "nice": false, "zero": false}},
  "text": {"field": "t"}}},
{"data": {"values": [{"t": "COCOA,H4  3381 3513 3359 3450"}]},
 "mark": {"type": "text", "align": "left", "baseline": "middle", "font": "Liberation Sans", "fontSize": 9.5, "color": "black"},
 "encoding": {
  "x": {"datum": 3.875, "type": "quantitative", "scale": {"domain": [-0.625, 478.375], "nice": false, "zero": false}},
  "y": {"datum": 8622, "type": "quantitative", "scale": {"domain": [833, 8722], "nice": false, "zero": false}},
  "text": {"field": "t"}}},
{"data": {"values": [{}]},
 "mark": {"type": "point", "shape": "triangle-down", "filled": true, "color": "black", "size": 22, "opacity": 1},
 "encoding": {
  "x": {"datum": 1.5, "type": "quantitative", "scale": {"domain": [-0.625, 478.375], "nice": false, "zero": false}},
  "y": {"datum": 8631, "type": "quantitative", "scale": {"domain": [833, 8722], "nice": false, "zero": false}}}},
{"data": {"name": "levels"},
 "mark": {"type": "tick", "orient": "horizontal", "thickness": 11, "color": "black", "opacity": 1},
 "encoding": {
  "x": {"datum": 472.3, "type": "quantitative", "scale": {"domain": [-0.625, 478.375], "nice": false, "zero": false}},
  "y": {"field": "p", "type": "quantitative", "scale": {"domain": [833, 8722], "nice": false, "zero": false}},
  "size": {"value": 28}}},
{"data": {"name": "levels"},
 "mark": {"type": "text", "align": "center", "baseline": "middle", "font": "Liberation Sans", "fontSize": 9, "color": "white"},
 "encoding": {
  "x": {"datum": 472.3, "type": "quantitative", "scale": {"domain": [-0.625, 478.375], "nice": false, "zero": false}},
  "y": {"field": "p", "type": "quantitative", "scale": {"domain": [833, 8722], "nice": false, "zero": false}},
  "text": {"field": "p", "type": "quantitative", "format": "d"}}}
]
}
